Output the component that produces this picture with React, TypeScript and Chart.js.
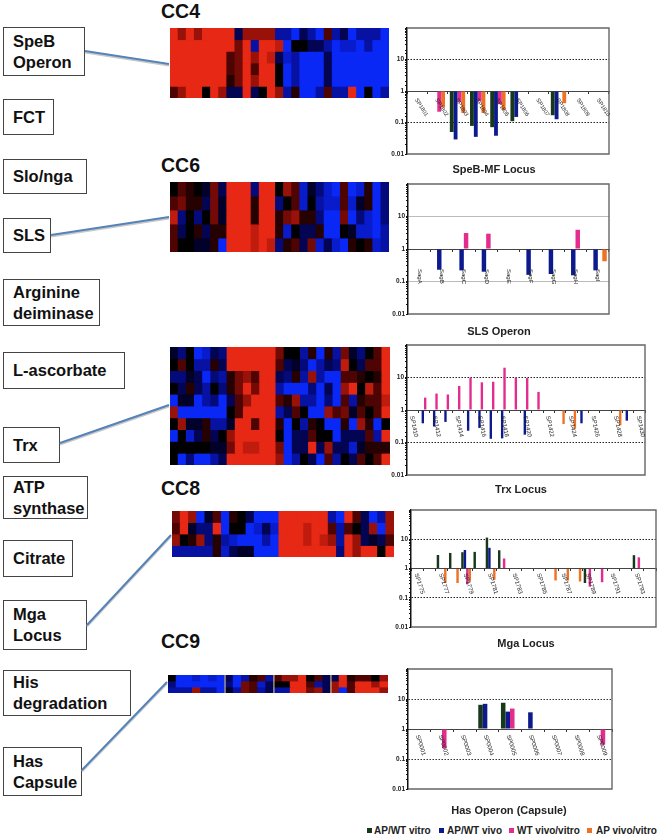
import React, { useEffect, useRef } from "react";
import { Chart, registerables } from "chart.js";

Chart.register(...registerables);

const FONT = '"Liberation Sans", Arial, sans-serif';
const GREEN = "#17381c";
const BLUE = "#0c1a8e";
const PINK = "#e22c8e";
const ORANGE = "#ef7224";

const seriesNames = ["AP/WT vitro", "AP/WT vivo", "WT vivo/vitro", "AP vivo/vitro"];
const seriesColors = [GREEN, BLUE, PINK, ORANGE];
const _ = null;

// SpeB-MF locus
const speCategories = ["SP1801", "SP1802", "SP1803", "SP1804", "SP1805", "SP1806", "SP1807", "SP1808", "SP1809", "SP1810"];
const speGreen = [_, _, 0.05, 0.078, 0.071, 0.11, _, 0.17, _, _];
const speBlue = [_, _, 0.029, 0.035, 0.038, 0.15, _, 0.127, _, _];
const spePink = [_, 0.22, 0.45, 0.48, 0.38, _, _, _, _, _];
const speOrange = [_, 0.3, 0.2, 0.2, 0.25, _, _, 0.41, _, _];

// SLS operon
const slsCategories = ["SagA", "SagB", "SagC", "SagD", "SagE", "SagF", "SagG", "SagH", "SagI"];
const slsGreen = [_, _, _, _, _, _, _, _, _];
const slsBlue = [_, 0.23, 0.22, 0.2, _, 0.16, 0.17, 0.155, 0.22];
const slsPink = [_, _, 3.1, 2.96, _, _, _, 3.9, _];
const slsOrange = [_, _, _, _, _, _, _, _, 0.42];

// Trx locus
const trxCategories = ["SP1410", "SP1411", "SP1412", "SP1413", "SP1414", "SP1415", "SP1416", "SP1417", "SP1418", "SP1419", "SP1420", "SP1421", "SP1422", "SP1423", "SP1424", "SP1425", "SP1426", "SP1427", "SP1428", "SP1429", "SP1430"];
const trxGreen = [_, _, _, _, _, _, _, _, _, _, _, _, _, _, _, _, _, _, _, _, _];
const trxBlue = [_, 0.39, 0.31, 0.43, _, 0.23, 0.28, 0.13, 0.134, _, 0.174, _, _, _, _, 0.39, _, _, _, 0.47, _];
const trxPink = [_, 2.4, 3.2, 3.0, 5.5, 9.9, 7.1, 7.4, 20, 10, 9.6, 3.6, _, _, _, _, _, _, _, _, _];
const trxOrange = [_, _, _, _, _, _, _, _, _, _, _, _, _, 0.37, 0.27, _, _, _, 0.34, _, _];

// Mga locus
const mgaCategories = ["SP1775", "SP1776", "SP1777", "SP1778", "SP1779", "SP1780", "SP1781", "SP1782", "SP1783", "SP1784", "SP1785", "SP1786", "SP1787", "SP1788", "SP1789", "SP1790", "SP1791", "SP1792", "SP1793", "SP1794"];
const mgaGreen = [_, _, 2.9, 3.4, 3.6, 3.7, 11.4, 4.2, _, _, _, _, _, _, 0.32, _, _, _, 2.85, _];
const mgaBlue = [_, _, _, _, 4.3, _, 5.1, _, _, _, _, _, _, _, _, _, _, _, _, _];
const mgaPink = [_, _, _, _, 0.29, _, _, 2.2, _, _, _, _, _, _, 0.24, 0.34, _, _, 2.4, _];
const mgaOrange = [_, _, 0.32, 0.32, 0.36, _, 0.41, _, _, _, _, 0.39, 0.39, 0.36, _, _, _, _, _, _];

// Has operon
const hasCategories = ["SP0001", "SP0002", "SP0003", "SP0004", "SP0005", "SP0006", "SP0007", "SP0008", "SP0009"];
const hasGreen = [_, _, _, 6.4, 7.5, _, _, _, _];
const hasBlue = [_, _, _, 6.9, 3.8, 3.6, _, _, _];
const hasPink = [_, 0.23, _, _, 4.8, _, _, _, 0.3];
const hasOrange = [_, _, _, _, _, _, _, _, _];

// Heat maps: -3 bright blue ... 0 black ... 3 bright red
const cc4Rows = [
  [3, 2, 3, 2, 3, 3, 3, 3, -1, 2, 2, 2, 2, -2, -2, -3, -1, -2, -3, 1, -2, -1, -3, -2, -2, -2, -3],
  [3, 3, 3, 3, 3, 3, 3, 3, 1.5, 3, -2, 3, 3, 2.5, -3, 0, 0, -1, -1, -2, -3, -2.5, -2.5, -3, -2, -3, -3],
  [3, 3, 3, 3, 3, 3, 3, 1, 1.5, 3, 2, 3, 2.5, -1, -2.5, -2, -3, -3, -3, -1, -3, -3, -3, -3, -3, -3, -3],
  [3, 3, 3, 3, 3, 3, 3, 1, 1.5, 3, 1, 3, 3, 0, -3, -2, -3, -3, -3, -1, -3, -3, -3, -3, -3, -3, -3],
  [3, 3, 3, 3, 3, 3, 3, 0.5, 1.5, 3, 2, 3, 3, 0, -3, -2, -3, -3, -3, -1, -3, -3, -3, -3, -3, -3, -3],
  [1, 2, 3, 3, 0, 3, 2, -1, -1, 3, -1, 0, 3, 2, -2, 0.5, -3, -3, -2, 1, -2, -2, 3, -3, 0, -3, -2],
];
const cc6Rows = [
  [0, 1, 0.5, 0, -0.5, 1.5, -1, 3, 3, 3, -1.5, 3, 3, 0, 2, 1, -2.5, -0.5, -1.5, -2.5, -3, 1, -3, -2.5, 0.5, -3, -1.5],
  [1, 1.5, 0.5, 0.5, -1, 1.5, -0.5, 3, 3, 3, 0.5, 3, 3, -1.5, 0, 1, -2.5, 0, -2, -2.5, -2.5, 1, -2.5, -0.5, 0.5, -3, -1.5],
  [2.5, -1.5, 0, -1.5, 0, 1.5, -0.5, 3, 3, 3, 0.5, 3, 3, 0.5, 1.5, 2, 0.5, 0.5, -1.5, -3, -3, 1.5, -3, -1.5, -2.5, -3, -1.5],
  [1, -1, 0, 0.5, -1, 0.5, 0.5, 3, 3, 3, 2.5, 3, 3, 0.5, -2.5, 0, -1, -1, 0.5, -3, -3, 0, -0.5, -2.5, -2.5, -3, -2],
  [1, 0, 0, -0.5, -0.5, 0.5, -3, 3, 3, 3, 2.5, 3, 2.5, -1.5, 0.5, 1, -1, 1.5, -2.5, -1, -2.5, -3, 0.5, 0, 0.5, -2.5, -2],
];
const trxRows = [
  [-0.5, -1.5, 0, -3, -2.5, -1, -1.5, 3, 3, 3, 3, 3, 3, 1.5, 0, 0, -2, 0.5, -3, 0.5, -2, 1.5, -0.5, -1.5, 0, 1, 3],
  [0, 1, 0, -2, -2, 0.5, -1, 3, 3, 3, 3, 3, 3, 1, -1, -0.5, -1.5, -3, -2, -1, -1.5, 2.5, 0, -1, 1, 1, 3],
  [-1.5, -1.5, -0.5, -1, -3, -1.5, -2, 0.5, 1.5, 2, 1, 3, 3, -1, -1.5, 0.5, -2, 2, -2, -3, -3, 1, 1, 0.5, 0, 0.5, 3],
  [0, -1, 0.5, -1, -2, 0, -1.5, 0.5, 1.5, 3, 1.5, 3, 3, -2, -3, -3, -3, -1.5, -3, -1, -3, 2, 3, 0, 2.5, 1, 3],
  [-3, -0.5, -0.5, -3, -2, -1.5, -3, -1, 1, 2, 3, 3, 3, 1, 0.5, 2, -2, -2, -3, -1.5, -3, 1, -2, 0.5, 1, 1, 2.5],
  [2, -3, -3, -3, -3, -3, -3, 0, 1, 3, 3, 3, 3, -2, -1, 1, 0, -3, -3, 2, 1, 1.5, -0.5, 1, 0, 1, 3],
  [0, 2, -0.5, -0.5, 0.5, -2, -2, -0.5, 3, 3, 1, 3, 3, 0.5, -3, 0, -2, 0.5, 0, -3, -3, 0.5, -3, 2, 0.5, -3, 0],
  [-3, 0, -2.5, -1, 0.5, -1, 0, 2, 3, 3, 3, 3, 3, 0, -3, -1, -1, 1, 0, 0, -3, -1, -1, -1, 1, -2, 3],
  [0, 0, 0, 0, 0, -0.5, -0.5, 1.5, 3, 2.5, 2.5, 3, 3, 1.5, -3, -1, -1, 3, -1, 2, -1, -1, -2.5, -0.5, 0.5, 0.5, 0.5],
  [0, -3, -1.5, -3, -3, -2, -1, 3, 3, 3, 3, 3, 3, 2, -3, -2, 0, -1, -3, 1, -2, 0, -1, 1, 0, 1, 3],
];
const cc8Rows = [
  [1.5, 3, 2, -3, -0.5, 1, -3, 0.5, 0, -1, -3, -3, -3, 3, 3, 3, 3, 3, 3, -2, -3, 3, 1, -1, -3, -2, 2],
  [1, 3, -0.5, -1.5, -1.5, 3, -3, 0, 0, -3, -2.5, -1, -2.5, 3, 3, 3, 2.5, 3, 3, 1, -2, 1, 0, -1, 2, -3, 2],
  [2, 0, 0.5, 2, -1.5, 0.5, -2, -2.5, -3, -3, -3, -2, -3, 3, 3, 3, 2.5, 3, 2.5, 2, -2, 3, 2, -1, -0.5, -1, 1],
  [-2, -2, -2, -2, -2, 0.5, -2.5, -1, -0.5, -0.5, -3, -3, -3, 3, 3, 3, 3, 3, 3, 3, -1.5, 3, 2, 3, 3, 0, 3],
];
const cc9Rows = [
  [0, -3, -3, -2.5, -3, -2.5, -3, -1, -3, -2, 0.5, 1, -2, 1, 2, 2, 3, 0, 1, -1, -1, 3, 0.5, 1, 1, 0, 2],
  [-1.5, -3, -3, -3, -3, -3, -3, -1.5, -3, 1.5, 1, -2.5, -1, 0, 0, 3, 3, 1, -2, -1, 2, 3, 1, 3, 3, 2, 3],
  [-2, -2, -2, 2, -2, -2, -3, -0.5, -2, 1.5, 1, -2, -1, -2, -2, 3, 3, 1.5, 2, -1, 2, -3, 1, 3, 3, 3, 2],
];
const cc9Breaks = [7, 13, 20];

const labelBoxes = [
  { lines: ["SpeB", "Operon"], x: 3, y: 27, w: 82, h: 49 },
  { lines: ["FCT"], x: 3, y: 99, w: 51, h: 36 },
  { lines: ["Slo/nga"], x: 3, y: 159, w: 84, h: 35 },
  { lines: ["SLS"], x: 3, y: 218, w: 48, h: 35 },
  { lines: ["Arginine", "deiminase"], x: 3, y: 279, w: 97, h: 47 },
  { lines: ["L-ascorbate"], x: 3, y: 352, w: 122, h: 37 },
  { lines: ["Trx"], x: 3, y: 427, w: 57, h: 36 },
  { lines: ["ATP", "synthase"], x: 3, y: 476, w: 85, h: 43 },
  { lines: ["Citrate"], x: 3, y: 540, w: 70, h: 37 },
  { lines: ["Mga", "Locus"], x: 3, y: 600, w: 84, h: 50 },
  { lines: ["His", "degradation"], x: 3, y: 670, w: 128, h: 46 },
  { lines: ["Has", "Capsule"], x: 3, y: 747, w: 79, h: 49 },
];
const callouts = [
  [85, 51, 169, 64],
  [51, 235, 169, 217],
  [60, 443, 169, 405],
  [87, 625, 171, 535],
  [82, 770, 167, 682],
];
const clusterTitles = [
  { text: "CC4", x: 161, y: 0 },
  { text: "CC6", x: 161, y: 154 },
  { text: "CC8", x: 161, y: 477 },
  { text: "CC9", x: 161, y: 630 },
];

function heatColor(v: number): string {
  const t = Math.min(1, Math.abs(v) / 3);
  return v >= 0
    ? `rgb(${Math.round(230 * t)},${Math.round(40 * t * t)},${Math.round(20 * t * t)})`
    : `rgb(${Math.round(10 * t)},${Math.round(40 * t * t)},${Math.round(245 * t)})`;
}

function HeatMap({ rows, x, y, w, h, breaks }: { rows: number[][]; x: number; y: number; w: number; h: number; breaks?: number[] }) {
  const ref = useRef<HTMLCanvasElement>(null);
  useEffect(() => {
    const labels = rows[0].map((_v, i) => `c${i + 1}`);
    const chart = new Chart(ref.current!, {
      type: "bar",
      data: {
        labels,
        datasets: rows.map((row, r) => ({
          label: `row ${r + 1}`,
          data: row.map(() => [r, r + 1]) as any,
          backgroundColor: row.map(heatColor),
          borderWidth: 0,
          barPercentage: 1,
          categoryPercentage: 1,
          grouped: false,
          inflateAmount: 0.4,
        })) as any,
      },
      options: {
        responsive: false,
        animation: false,
        layout: { padding: 0 },
        plugins: { legend: { display: false }, tooltip: { enabled: false } },
        scales: {
          x: { display: false },
          y: { display: false, reverse: true, min: 0, max: rows.length },
        },
      },
      plugins: [
        {
          id: "breaks",
          afterDatasetsDraw(c: any) {
            if (!breaks) return;
            const { ctx, chartArea } = c;
            ctx.save();
            ctx.strokeStyle = "#e9d9a0";
            ctx.lineWidth = 1;
            const step = (chartArea.right - chartArea.left) / rows[0].length;
            breaks.forEach((b) => {
              const px = chartArea.left + b * step;
              ctx.beginPath();
              ctx.moveTo(px, chartArea.top);
              ctx.lineTo(px, chartArea.bottom);
              ctx.stroke();
            });
            ctx.restore();
          },
        },
      ],
    });
    return () => chart.destroy();
  }, []);
  return <canvas ref={ref} width={w} height={h} style={{ position: "absolute", left: x, top: y, width: w, height: h }} />;
}

type PanelProps = {
  categories: string[];
  series: (number | null)[][];
  left: number;
  right: number;
  top: number;
  bottom: number;
  angle: number;
  labelDy: number;
  labelDx: number;
  labelEvery: number;
  labelSize: number;
  catPct: number;
  gridColor: string;
  gridDash: number[];
};

function BarPanel(p: PanelProps) {
  const ref = useRef<HTMLCanvasElement>(null);
  const originX = 382;
  const pad = 6;
  const width = p.right - originX + pad;
  const height = p.bottom - p.top + pad * 2;
  useEffect(() => {
    const chart = new Chart(ref.current!, {
      type: "bar",
      data: {
        labels: p.categories,
        datasets: p.series.map((values, i) => ({
          label: seriesNames[i],
          data: values,
          backgroundColor: seriesColors[i],
          base: 1,
          barPercentage: 1,
          categoryPercentage: p.catPct,
          borderWidth: 0,
        })) as any,
      },
      options: {
        responsive: false,
        animation: false,
        layout: { padding: { top: pad, bottom: pad, right: pad, left: 0 } },
        plugins: { legend: { display: false }, tooltip: { enabled: false } },
        scales: {
          x: {
            position: { y: 1 } as any,
            ticks: { display: false },
            grid: { drawOnChartArea: false, drawTicks: true, tickLength: 2, tickColor: "#333" },
            border: { color: "#444", width: 1 },
          },
          y: {
            type: "logarithmic",
            min: 0.01,
            max: 100,
            afterFit(scale: any) {
              scale.width = p.left - originX;
            },
            ticks: {
              autoSkip: false,
              padding: 1,
              color: "#222",
              font: { family: FONT, size: 6.5, weight: "bold" },
              callback: (v: any) => {
                const n = Number(v);
                if (n === 10) return "10";
                if (n === 1) return "1";
                if (Math.abs(n - 0.1) < 1e-9) return "0.1";
                if (Math.abs(n - 0.01) < 1e-9) return "0.01";
                return "";
              },
            },
            grid: {
              tickLength: 2,
              tickColor: "#111",
              color: (ctx: any) => {
                const n = ctx.tick ? ctx.tick.value : 0;
                return n === 10 || Math.abs(n - 0.1) < 1e-9 ? p.gridColor : "rgba(0,0,0,0)";
              },
            },
            border: { color: "#111", width: 1.5, dash: p.gridDash },
          },
        },
      },
      plugins: [
        {
          id: "frameAndLabels",
          afterDatasetsDraw(c: any) {
            const { ctx, chartArea, scales } = c;
            ctx.save();
            ctx.strokeStyle = "#666";
            ctx.lineWidth = 1.4;
            ctx.beginPath();
            ctx.moveTo(chartArea.left, chartArea.top);
            ctx.lineTo(chartArea.right, chartArea.top);
            ctx.lineTo(chartArea.right, chartArea.bottom);
            ctx.lineTo(chartArea.left, chartArea.bottom);
            ctx.stroke();
            ctx.fillStyle = "#222";
            ctx.font = `${p.labelSize}px ${FONT}`;
            ctx.textAlign = "left";
            ctx.textBaseline = "middle";
            const y1 = scales.y.getPixelForValue(1);
            p.categories.forEach((name, i) => {
              if (i % p.labelEvery !== 0) return;
              ctx.save();
              ctx.translate(scales.x.getPixelForValue(i) + p.labelDx, y1 + p.labelDy);
              ctx.rotate((p.angle * Math.PI) / 180);
              ctx.fillText(name, 0, 0);
              ctx.restore();
            });
            ctx.restore();
          },
        },
      ],
    });
    return () => chart.destroy();
  }, []);
  return (
    <canvas
      ref={ref}
      width={width}
      height={height}
      style={{ position: "absolute", left: originX, top: p.top - pad, width, height }}
    />
  );
}

const panelTitles = [
  { text: "SpeB-MF Locus", cx: 494, y: 169 },
  { text: "SLS Operon", cx: 499, y: 331 },
  { text: "Trx Locus", cx: 521, y: 489 },
  { text: "Mga Locus", cx: 526, y: 643 },
  { text: "Has Operon (Capsule)", cx: 509, y: 810 },
];
const legendPositions = [
  { sq: 367, tx: 374 },
  { sq: 439, tx: 447 },
  { sq: 509, tx: 517 },
  { sq: 587, tx: 596 },
];

export default function App() {
  useEffect(() => {
    document.body.style.margin = "0";
  }, []);
  return (
    <div style={{ position: "absolute", left: 0, top: 0, width: 661, height: 839, overflow: "hidden", background: "#fff", fontFamily: FONT, filter: "blur(0.4px)" }}>
      {labelBoxes.map((b) => (
        <div
          key={b.lines.join(" ")}
          style={{
            position: "absolute",
            left: b.x,
            top: b.y,
            width: b.w,
            height: b.h,
            boxSizing: "border-box",
            border: "1px solid #444",
            display: "flex",
            flexDirection: "column",
            justifyContent: "center",
            paddingLeft: 9,
            fontWeight: 700,
            fontSize: 16.5,
            lineHeight: "21px",
            color: "#111",
            whiteSpace: "nowrap",
          }}
        >
          {b.lines.map((l) => (
            <div key={l}>{l}</div>
          ))}
        </div>
      ))}
      <svg width={661} height={839} style={{ position: "absolute", left: 0, top: 0 }}>
        {callouts.map(([x1, y1, x2, y2], i) => (
          <g key={i}>
            <line x1={x1} y1={y1 + 1.5} x2={x2} y2={y2 + 1.5} stroke="#c9c9c9" strokeWidth={2} />
            <line x1={x1} y1={y1} x2={x2} y2={y2} stroke="#5582b8" strokeWidth={2} />
          </g>
        ))}
      </svg>
      {clusterTitles.map((t) => (
        <div key={t.text} style={{ position: "absolute", left: t.x, top: t.y, fontWeight: 700, fontSize: 19.5, lineHeight: "22px", color: "#111" }}>
          {t.text}
        </div>
      ))}
      <HeatMap rows={cc4Rows} x={170} y={28} w={219} h={70} />
      <HeatMap rows={cc6Rows} x={170} y={182} w={219} h={70} />
      <HeatMap rows={trxRows} x={170} y={347} w={220} h={118} />
      <HeatMap rows={cc8Rows} x={172} y={511} w={222} h={46} />
      <HeatMap rows={cc9Rows} x={168} y={675} w={220} h={18} breaks={cc9Breaks} />

      <BarPanel categories={speCategories} series={[speGreen, speBlue, spePink, speOrange]} left={407} right={609} top={28} bottom={154} angle={58} labelDy={8} labelDx={-1} labelEvery={1} labelSize={5.6} catPct={0.76} gridColor="#222" gridDash={[1.5, 1.5]} />
      <BarPanel categories={slsCategories} series={[slsGreen, slsBlue, slsPink, slsOrange]} left={408} right={609} top={184} bottom={314} angle={90} labelDy={20} labelDx={0} labelEvery={1} labelSize={6} catPct={0.8} gridColor="#bbb" gridDash={[]} />
      <BarPanel categories={trxCategories} series={[trxGreen, trxBlue, trxPink, trxOrange]} left={407} right={645} top={345} bottom={475} angle={78} labelDy={6} labelDx={-1} labelEvery={2} labelSize={6} catPct={0.84} gridColor="#222" gridDash={[1.5, 1.5]} />
      <BarPanel categories={mgaCategories} series={[mgaGreen, mgaBlue, mgaPink, mgaOrange]} left={411} right={656} top={510} bottom={627} angle={72} labelDy={5} labelDx={-1} labelEvery={2} labelSize={6} catPct={0.8} gridColor="#222" gridDash={[1.5, 1.5]} />
      <BarPanel categories={hasCategories} series={[hasGreen, hasBlue, hasPink, hasOrange]} left={408} right={612} top={669} bottom={789} angle={72} labelDy={6} labelDx={-2} labelEvery={1} labelSize={6} catPct={0.8} gridColor="#333" gridDash={[1.5, 1.5]} />

      {panelTitles.map((t) => (
        <div key={t.text} style={{ position: "absolute", left: t.cx - 100, width: 200, top: t.y - 7, textAlign: "center", fontWeight: 700, fontSize: 11, lineHeight: "14px", color: "#222" }}>
          {t.text}
        </div>
      ))}
      {seriesNames.map((name, i) => (
        <React.Fragment key={name}>
          <div style={{ position: "absolute", left: legendPositions[i].sq, top: 828, width: 5, height: 5, background: seriesColors[i] }} />
          <div style={{ position: "absolute", left: legendPositions[i].tx, top: 824, fontWeight: 700, fontSize: 10, lineHeight: "14px", color: "#222", whiteSpace: "nowrap" }}>{name}</div>
        </React.Fragment>
      ))}
    </div>
  );
}
